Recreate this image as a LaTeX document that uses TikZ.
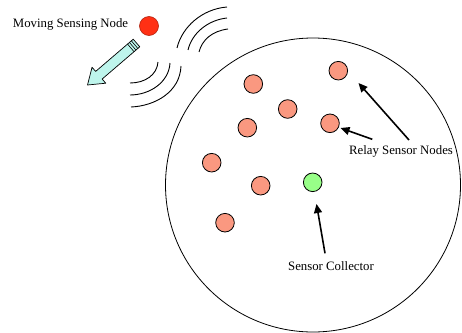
\documentclass[tikz,border=0pt]{standalone}
\usepackage{fontspec}
\setmainfont{Liberation Serif}
\usetikzlibrary{arrows.meta}
\definecolor{relayc}{RGB}{250,152,128}
\definecolor{collc}{RGB}{152,255,136}
\definecolor{movc}{RGB}{255,48,20}
\definecolor{arrc}{RGB}{190,245,236}
\tikzset{
  sensor/.style={circle,draw=black,line width=0.8pt,minimum size=18.6pt,inner sep=0pt},
  relay/.style={sensor,fill=relayc},
  coll/.style={sensor,fill=collc},
  mover/.style={circle,draw=movc!70!black,line width=0.6pt,fill=movc,minimum size=19pt,inner sep=0pt},
  lbl/.style={inner sep=0pt,font=\fontsize{12.8}{15}\selectfont},
  ptr/.style={line width=1.6pt,-{Triangle[length=9pt,width=8pt]}},
  wave/.style={line width=0.9pt},
}
\begin{document}
\begin{tikzpicture}[x=1pt,y=-1pt]
\useasboundingbox (0,0) rectangle (462,332);
% field
\draw[line width=0.8pt] (313,185) circle[x radius=147.5,y radius=147];
% moving node
\node[lbl] (movl) at (70.5,24) {Moving Sensing Node};
\node[mover] (mov) at (149,26) {};
% moving arrow
\draw[fill=arrc,line width=0.7pt,line join=round]
  (139.76,46.80) -- (102.15,79.03) -- (105.73,83.21) -- (87.5,85)
  -- (92.05,67.25) -- (95.63,71.43) -- (133.24,39.20) -- cycle;
\foreach \t in {2.5,5,7.5}{
  \draw[line width=0.6pt] ({136.5-0.7597*\t+3.26},{43+0.6512*\t+3.80}) -- ({136.5-0.7597*\t-3.26},{43+0.6512*\t-3.80});
}
% waves upper
\draw[wave] (199,52) .. controls (202,40) and (212,31) .. (228,29);
\draw[wave] (188,50) .. controls (192,33) and (208,20) .. (227,18);
\draw[wave] (177,48) .. controls (182,27) and (202,9) .. (227,7);
% waves lower
\draw[wave] (158,62) .. controls (157,75) and (145,83) .. (130,83);
\draw[wave] (170,63) .. controls (169,82) and (150,95) .. (130,95);
\draw[wave] (181,66) .. controls (180,92) and (155,106) .. (131,107);
% relay nodes
\node[relay] (r1) at (338.3,70.7) {};
\node[relay] (r2) at (253.3,84) {};
\node[relay] (r3) at (287.7,109) {};
\node[relay] (r4) at (330,123.3) {};
\node[relay] (r5) at (247.3,127.7) {};
\node[relay] (r6) at (211.7,162.7) {};
\node[relay] (r7) at (260.7,185.7) {};
\node[relay] (r8) at (225,222.7) {};
\node[coll] (c) at (312.7,182.3) {};
% labels
\node[lbl] (rl) at (401,151) {Relay Sensor Nodes};
\node[lbl] (cl) at (331,266) {Sensor Collector};
% pointers
\coordinate (p1s) at (409,140);
\coordinate (p1e) at (358.5,83);
\coordinate (p2s) at (372.3,139.3);
\coordinate (p2e) at (340.5,128);
\coordinate (p3s) at (325,253.3);
\coordinate (p3e) at (316.5,204);
\draw[ptr] (p1s) -- (p1e);
\draw[ptr] (p2s) -- (p2e);
\draw[ptr] (p3s) -- (p3e);
\end{tikzpicture}
\end{document}
